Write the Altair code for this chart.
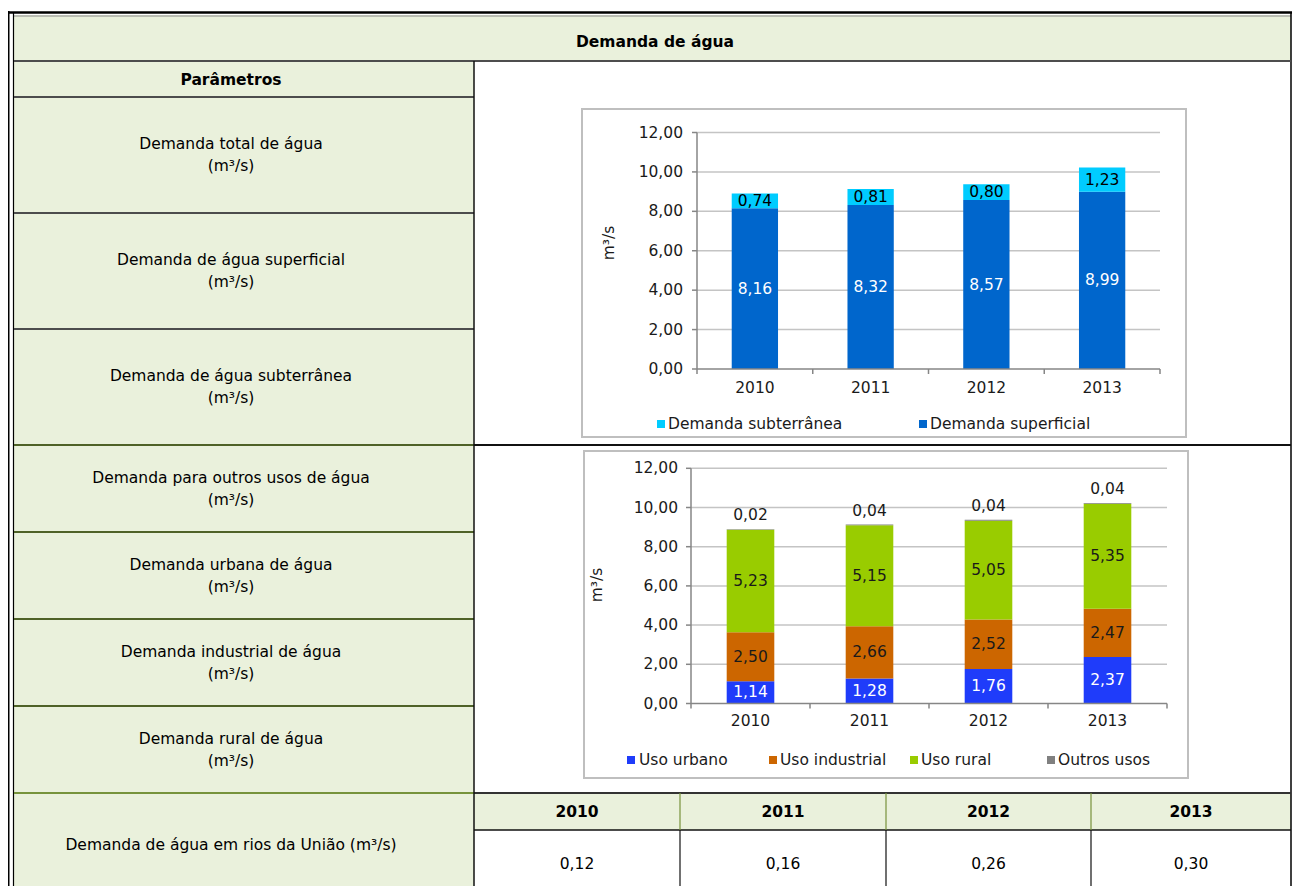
import altair as alt
import pandas as pd

# ---------------- data ----------------
years = ["2010", "2011", "2012", "2013"]
demanda_superficial = [8.16, 8.32, 8.57, 8.99]
demanda_subterranea = [0.74, 0.81, 0.80, 1.23]
uso_urbano = [1.14, 1.28, 1.76, 2.37]
uso_industrial = [2.50, 2.66, 2.52, 2.47]
uso_rural = [5.23, 5.15, 5.05, 5.35]
outros_usos = [0.02, 0.04, 0.04, 0.04]
rios_uniao = [0.12, 0.16, 0.26, 0.30]
y_ticks = [0, 2, 4, 6, 8, 10, 12]
y_tick_labels = ["0,00", "2,00", "4,00", "6,00", "8,00", "10,00", "12,00"]
row_labels = [
    ("Demanda total de água", "(m³/s)"),
    ("Demanda de água superficial", "(m³/s)"),
    ("Demanda de água subterrânea", "(m³/s)"),
    ("Demanda para outros usos de água", "(m³/s)"),
    ("Demanda urbana de água", "(m³/s)"),
    ("Demanda industrial de água", "(m³/s)"),
    ("Demanda rural de água", "(m³/s)"),
]
last_row_label = "Demanda de água em rios da União (m³/s)"
table_title = "Demanda de água"
param_header = "Parâmetros"
unit_title = "m³/s"

# ---------------- layout / style ----------------
OFF = 8
W, H = 1284, 878
RIGHT = 1291
FONT = "DejaVu Sans"
FS = 15.5
GREEN = "#EAF1DC"


def fmt(v):
    return f"{v:.2f}".replace(".", ",")


def PX():
    return alt.Scale(domain=[0, W], range=[0, W], nice=False, zero=False)


def PY():
    return alt.Scale(domain=[0, H], range=[0, H], nice=False, zero=False)


def shift(df, cols):
    df = df.copy()
    for c in cols:
        df[c] = df[c] - OFF
    return df


layers = []

# ---- table fills ----
fills = pd.DataFrame(
    [
        dict(x=14, x2=RIGHT, y=15, y2=61, f=GREEN),
        dict(x=14, x2=474, y=61, y2=894, f=GREEN),
        dict(x=474, x2=RIGHT, y=793, y2=830, f=GREEN),
    ]
)
fills = shift(fills, ["x", "x2", "y", "y2"])
layers.append(
    alt.Chart(fills)
    .mark_rect()
    .encode(
        x=alt.X("x:Q", scale=PX(), axis=None),
        x2="x2:Q",
        y=alt.Y("y:Q", scale=PY(), axis=None),
        y2="y2:Q",
        color=alt.Color("f:N", scale=None),
    )
)

# ---- table lines ----
OLIVE = "#4f6228"
OLIVE2 = "#77933c"
line_rows = [
    (7, 1300, 12.5, 12.5, "#000000", 2.5),
    (14, RIGHT, 16, 16, "#8a8a8a", 1),
    (8, 8, 11, 894, "#000000", 3),
    (13.5, 13.5, 12, 894, "#000000", 1.2),
    (RIGHT, RIGHT, 12, 894, "#000000", 1.5),
    (14, RIGHT, 61, 61, "#4d4d4d", 2),
    (14, 474, 97, 97, "#4d4d4d", 2),
    (14, 474, 213, 213, "#4d4d4d", 2),
    (14, 474, 329, 329, "#4d4d4d", 2),
    (14, 474, 445, 445, OLIVE, 2),
    (474, RIGHT, 445, 445, "#111111", 2),
    (14, 474, 532, 532, OLIVE, 2),
    (14, 474, 619, 619, OLIVE, 2),
    (14, 474, 706, 706, OLIVE, 2),
    (14, 474, 793, 793, OLIVE2, 2),
    (474, RIGHT, 793, 793, "#333333", 2),
    (474, RIGHT, 830, 830, "#111111", 1.5),
    (474, 474, 61, 894, "#111111", 1.5),
]
for xv in (680, 886, 1091):
    line_rows.append((xv, xv, 793, 830, OLIVE2, 1.2))
    line_rows.append((xv, xv, 830, 894, "#111111", 1.2))
lines = pd.DataFrame(line_rows, columns=["x", "x2", "y", "y2", "c", "w"])
lines = shift(lines, ["x", "x2", "y", "y2"])
layers.append(
    alt.Chart(lines)
    .mark_rule()
    .encode(
        x=alt.X("x:Q", scale=PX(), axis=None),
        x2="x2:Q",
        y=alt.Y("y:Q", scale=PY(), axis=None),
        y2="y2:Q",
        color=alt.Color("c:N", scale=None),
        strokeWidth=alt.StrokeWidth("w:Q", scale=None),
    )
)

# ---- table texts ----
col_centers = [577, 783, 988.5, 1191]
bold_rows = [dict(t=table_title, x=655, y=42), dict(t=param_header, x=231, y=80)]
for yr, cx in zip(years, col_centers):
    bold_rows.append(dict(t=yr, x=cx, y=812))
norm_rows = []
row_centers = [155, 271, 387, 488.5, 575.5, 662.5, 749.5]
for (l1, l2), cy in zip(row_labels, row_centers):
    norm_rows.append(dict(t=l1, x=231, y=cy - 11))
    norm_rows.append(dict(t=l2, x=231, y=cy + 11))
norm_rows.append(dict(t=last_row_label, x=231, y=845))
for v, cx in zip(rios_uniao, col_centers):
    norm_rows.append(dict(t=fmt(v), x=cx, y=864))

for rows, weight in ((bold_rows, "bold"), (norm_rows, "normal")):
    df = shift(pd.DataFrame(rows), ["x", "y"])
    layers.append(
        alt.Chart(df)
        .mark_text(font=FONT, fontSize=FS, fontWeight=weight, color="#000000", baseline="middle", align="center")
        .encode(
            x=alt.X("x:Q", scale=PX(), axis=None),
            y=alt.Y("y:Q", scale=PY(), axis=None),
            text="t:N",
        )
    )


# ---------------- bar panels ----------------
def bar_panel(box, x_rng, y_rng, ylab_x, xlab_y, title_xy, series, values, colors,
              label_colors, top_series, legend_y, legend_sq_x, legend_tx_x):
    out = []
    xs = lambda: alt.Scale(domain=years, range=[x_rng[0] - OFF, x_rng[1] - OFF],
                           paddingInner=0.6, paddingOuter=0.3)
    ys = lambda: alt.Scale(domain=[0, 12], range=[y_rng[0] - OFF, y_rng[1] - OFF],
                           nice=False, zero=False)
    xb = lambda: alt.Scale(domain=[0, 4], range=[x_rng[0] - OFF, x_rng[1] - OFF],
                           nice=False, zero=False)

    # box
    out.append(
        alt.Chart(pd.DataFrame({"a": [0]}))
        .mark_rect(fill="white", stroke="#BFBFBF", strokeWidth=2)
        .encode(x=alt.value(box[0] - OFF), x2=alt.value(box[1] - OFF),
                y=alt.value(box[2] - OFF), y2=alt.value(box[3] - OFF))
    )
    # gridlines
    grid = pd.DataFrame({"v": y_ticks[1:]})
    out.append(
        alt.Chart(grid)
        .mark_rule(color="#C4C4C4", strokeWidth=1.5)
        .encode(y=alt.Y("v:Q", scale=ys(), axis=None),
                x=alt.value(x_rng[0] - OFF), x2=alt.value(x_rng[1] - OFF))
    )
    # bars
    rows = []
    for si, (s, vals) in enumerate(zip(series, values)):
        for yr, v in zip(years, vals):
            rows.append(dict(year=yr, series=s, order=si, value=v, label=fmt(v)))
    df = pd.DataFrame(rows)
    base = alt.Chart(df).transform_stack(
        stack="value", groupby=["year"], as_=["y0", "y1"], sort=[alt.SortField("order")]
    )
    out.append(
        base.mark_bar().encode(
            x=alt.X("year:N", scale=xs(), axis=None),
            y=alt.Y("y0:Q", scale=ys(), axis=None),
            y2="y1:Q",
            color=alt.Color("series:N", scale=alt.Scale(domain=series, range=colors), legend=None),
        )
    )
    # axes
    ax = pd.DataFrame({"lo": [0], "hi": [12]})
    out.append(
        alt.Chart(ax).mark_rule(color="#868686", strokeWidth=1.5).encode(
            y=alt.Y("lo:Q", scale=ys(), axis=None), y2="hi:Q", x=alt.value(x_rng[0] - OFF))
    )
    out.append(
        alt.Chart(pd.DataFrame({"v": y_ticks})).mark_rule(color="#868686", strokeWidth=1.5).encode(
            y=alt.Y("v:Q", scale=ys(), axis=None),
            x=alt.value(x_rng[0] - OFF - 5), x2=alt.value(x_rng[0] - OFF))
    )
    xa = pd.DataFrame({"a": [0], "b": [4], "z": [0]})
    out.append(
        alt.Chart(xa).mark_rule(color="#868686", strokeWidth=1.5).encode(
            x=alt.X("a:Q", scale=xb(), axis=None), x2="b:Q",
            y=alt.Y("z:Q", scale=ys(), axis=None))
    )
    xt = pd.DataFrame({"b": [0, 1, 2, 3, 4]})
    out.append(
        alt.Chart(xt).mark_rule(color="#868686", strokeWidth=1.5).encode(
            x=alt.X("b:Q", scale=xb(), axis=None),
            y=alt.value(y_rng[0] - OFF), y2=alt.value(y_rng[0] - OFF + 5))
    )
    # y tick labels
    out.append(
        alt.Chart(pd.DataFrame({"v": y_ticks, "t": y_tick_labels}))
        .mark_text(font=FONT, fontSize=FS, align="right", baseline="middle", color="#1a1a1a")
        .encode(y=alt.Y("v:Q", scale=ys(), axis=None), x=alt.value(ylab_x - OFF), text="t:N")
    )
    # x labels
    out.append(
        alt.Chart(pd.DataFrame({"year": years}))
        .mark_text(font=FONT, fontSize=FS, align="center", baseline="middle", color="#1a1a1a")
        .encode(x=alt.X("year:N", scale=xs(), axis=None), y=alt.value(xlab_y - OFF), text="year:N")
    )
    # y title
    out.append(
        alt.Chart(pd.DataFrame({"t": [unit_title]}))
        .mark_text(font=FONT, fontSize=FS, angle=270, align="center", baseline="middle", color="#1a1a1a")
        .encode(x=alt.value(title_xy[0] - OFF), y=alt.value(title_xy[1] - OFF), text="t:N")
    )
    # value labels (centered)
    lab = base.transform_calculate(mid="(datum.y0 + datum.y1) / 2")
    if top_series is not None:
        lab_c = lab.transform_filter(alt.datum.series != top_series)
    else:
        lab_c = lab
    out.append(
        lab_c.mark_text(font=FONT, fontSize=FS, align="center", baseline="middle").encode(
            x=alt.X("year:N", scale=xs(), axis=None),
            y=alt.Y("mid:Q", scale=ys(), axis=None),
            text="label:N",
            color=alt.Color("series:N", scale=alt.Scale(domain=series, range=label_colors), legend=None),
        )
    )
    if top_series is not None:
        out.append(
            lab.transform_filter(alt.datum.series == top_series)
            .mark_text(font=FONT, fontSize=FS, align="center", baseline="middle", dy=-14, color="#1a1a1a")
            .encode(
                x=alt.X("year:N", scale=xs(), axis=None),
                y=alt.Y("y1:Q", scale=ys(), axis=None),
                text="label:N",
            )
        )
    # legend
    leg = pd.DataFrame({"series": series, "sx": [v - OFF for v in legend_sq_x],
                        "tx": [v - OFF for v in legend_tx_x], "ly": [legend_y - OFF] * len(series)})
    out.append(
        alt.Chart(leg).mark_square(size=64, opacity=1).encode(
            x=alt.X("sx:Q", scale=PX(), axis=None),
            y=alt.Y("ly:Q", scale=PY(), axis=None),
            color=alt.Color("series:N", scale=alt.Scale(domain=series, range=colors), legend=None),
        )
    )
    out.append(
        alt.Chart(leg).mark_text(font=FONT, fontSize=FS, align="left", baseline="middle", color="#1a1a1a").encode(
            x=alt.X("tx:Q", scale=PX(), axis=None),
            y=alt.Y("ly:Q", scale=PY(), axis=None),
            text="series:N",
        )
    )
    return out


# chart 1 : total demand (superficial + subterrânea)
layers += bar_panel(
    box=(582, 1186, 109, 437),
    x_rng=(697, 1160),
    y_rng=(369, 132.5),
    ylab_x=683,
    xlab_y=388,
    title_xy=(609, 243),
    series=["Demanda superficial", "Demanda subterrânea"],
    values=[demanda_superficial, demanda_subterranea],
    colors=["#0066CC", "#00CCFF"],
    label_colors=["#FFFFFF", "#000000"],
    top_series=None,
    legend_y=424,
    legend_sq_x=[923, 661],
    legend_tx_x=[930, 668],
)

# chart 2 : demand by use
layers += bar_panel(
    box=(584, 1188, 451, 778),
    x_rng=(691, 1167),
    y_rng=(703.5, 468.3),
    ylab_x=678,
    xlab_y=721,
    title_xy=(597, 585),
    series=["Uso urbano", "Uso industrial", "Uso rural", "Outros usos"],
    values=[uso_urbano, uso_industrial, uso_rural, outros_usos],
    colors=["#1F3CFA", "#CC6600", "#99CC00", "#808080"],
    label_colors=["#FFFFFF", "#1a1a1a", "#1a1a1a", "#1a1a1a"],
    top_series="Outros usos",
    legend_y=760,
    legend_sq_x=[631, 773, 914, 1051],
    legend_tx_x=[639, 780, 921, 1058],
)

chart = (
    alt.layer(*layers)
    .resolve_scale(x="independent", y="independent", color="independent")
    .properties(width=W, height=H, padding=0, autosize=alt.AutoSizeParams(type="none"))
    .configure_view(stroke=None)
)

chart.save("out.html", embed_options={"renderer": "svg", "actions": False})
